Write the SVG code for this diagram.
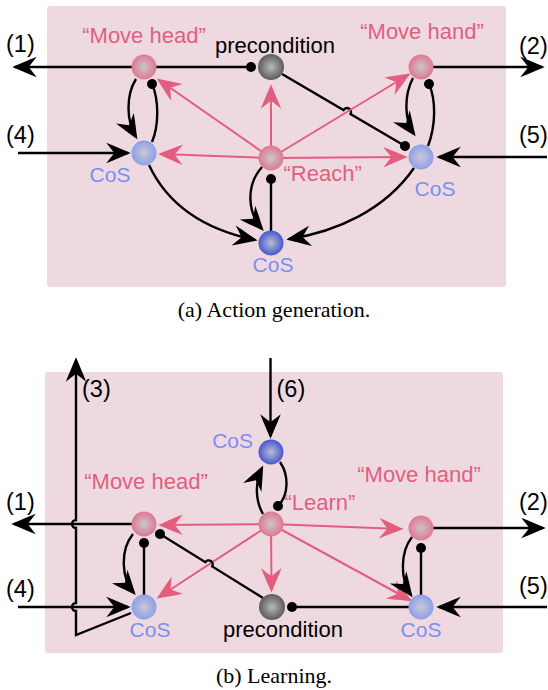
<svg xmlns="http://www.w3.org/2000/svg" width="548" height="690" viewBox="0 0 548 690">
<style>
.panel{fill:#efd9e1}
.k{fill:none;stroke:#000;stroke-width:2.4}
.p{fill:none;stroke:#e35d7e;stroke-width:2}
.ah{marker-end:url(#arrK)}
.ph{marker-end:url(#arrP)}
.de{marker-end:url(#dot)}
.ds{marker-start:url(#dot)}
text{font-family:"Liberation Sans",Arial,sans-serif;font-size:22px}
.n{font-size:23.5px}
.tp{fill:#e0607f}
.tb{fill:#7b8ff0;font-size:21px}
.tk{fill:#000}
.cap{font-family:"Liberation Serif","Times New Roman",serif;font-size:22px;fill:#000}
</style>
<defs>
<marker id="arrK" markerUnits="userSpaceOnUse" markerWidth="30" markerHeight="30" refX="0" refY="0" viewBox="-18 -10 22 20" orient="auto">
<path d="M2,0 C-3,-2 -9,-4.8 -16,-7.5 L-10,0 L-16,7.5 C-9,4.8 -3,2 2,0Z" fill="#000"/>
</marker>
<marker id="arrP" markerUnits="userSpaceOnUse" markerWidth="30" markerHeight="30" refX="0" refY="0" viewBox="-18 -10 22 20" orient="auto">
<path d="M2,0 C-3,-2 -9,-4.8 -16,-7.5 L-10,0 L-16,7.5 C-9,4.8 -3,2 2,0Z" fill="#e35d7e"/>
</marker>
<marker id="dot" markerUnits="userSpaceOnUse" markerWidth="12" markerHeight="12" refX="0" refY="0" viewBox="-6 -6 12 12" orient="auto">
<circle cx="0" cy="0" r="5" fill="#000"/>
</marker>
<radialGradient id="gP" cx="0.5" cy="0.5" r="0.5"><stop offset="0" stop-color="#cbc6cd"/><stop offset="1" stop-color="#de7890"/></radialGradient>
<radialGradient id="gB" cx="0.5" cy="0.5" r="0.5"><stop offset="0" stop-color="#c9c9d6"/><stop offset="1" stop-color="#8d9ee9"/></radialGradient>
<radialGradient id="gD" cx="0.5" cy="0.5" r="0.5"><stop offset="0" stop-color="#b9bcd6"/><stop offset="1" stop-color="#4858cc"/></radialGradient>
<radialGradient id="gG" cx="0.5" cy="0.5" r="0.5"><stop offset="0" stop-color="#b9b9b9"/><stop offset="1" stop-color="#5c5c5c"/></radialGradient>
</defs>

<rect class="panel" x="47" y="6" width="459" height="281" rx="3"/>
<rect class="panel" x="45" y="372" width="458" height="281" rx="3"/>

<g id="connectors">
<!-- top panel -->
<path class="k ds ah" d="M251,67 L15,67"/>
<path class="k ah" d="M421,67 L542,67"/>
<path class="k ah" d="M18,153 L128,153"/>
<path class="k ah" d="M547,157 L439,157"/>
<path class="k ah" d="M136,79 C126,95 126,120 136,137"/>
<path class="k de" d="M152,142 C159,125 159,100 152,84"/>
<path class="k ah" d="M413,78 C404,95 404,120 414,134"/>
<path class="k de" d="M428,146 C436,125 436,100 429,84"/>
<path class="k de" d="M282,74 L343.5,110.1 A4 4 0 0 1 350.5,114.1 L405,146"/>
<path class="p ph" d="M271,158 L159,80"/>
<path class="p ph" d="M271,158 L271,87"/>
<path class="p ph" d="M271,158 L408,75"/>
<path class="p ph" d="M271,158 L161,154"/>
<path class="p ph" d="M271,158 L405,157"/>
<path class="k ah" d="M262,167 C246,185 247,212 262,229"/>
<path class="k de" d="M271,231 L271,179"/>
<path class="k ah" d="M149,165 C170,210 212,231 255,240"/>
<path class="k ah" d="M414,168 C385,210 336,232 289,239"/>
<!-- bottom panel -->
<path class="k ah" d="M131,613 L76,635 L76,611 A4 4 0 0 1 76,603 L76,528 A4 4 0 0 1 76,520 L76,360"/>
<path class="k ah" d="M270.5,358 L270.5,436"/>
<path class="k ah" d="M144,524 L14,524"/>
<path class="k ah" d="M18,607 L128,607"/>
<path class="k ah" d="M421,528 L543,528"/>
<path class="k ah" d="M547,607 L439,607"/>
<path class="k ah" d="M263,514 C255,500 255,482 262,468"/>
<path class="k de" d="M280,462 C289,475 289,495 278,506"/>
<path class="p ph" d="M271,524 L161,525"/>
<path class="p ph" d="M271,524 L401,529"/>
<path class="p ph" d="M271,524 L159,597"/>
<path class="p ph" d="M271,524 L271.5,590"/>
<path class="p ph" d="M271,524 L410,600"/>
<path class="k ah" d="M133,534 C120,550 121,578 134,593"/>
<path class="k de" d="M144,595 L144,543"/>
<path class="k ds" d="M160,534 L205.4,562.2 A4 4 0 0 1 212.2,566.4 L263,598"/>
<path class="k ds" d="M292,607 L421,607"/>
<path class="k ah" d="M412,537 C400,552 400,580 411,595"/>
<path class="k de" d="M421,595 L421,548"/>
</g>

<g id="a-movehead"><circle cx="144" cy="67" r="12.5" fill="url(#gP)"/><text class="tp" x="144" y="43" text-anchor="middle">“Move head”</text></g>
<g id="a-precondition"><circle cx="271" cy="67" r="13" fill="url(#gG)"/><text class="tk" x="275" y="52.5" text-anchor="middle">precondition</text></g>
<g id="a-movehand"><circle cx="421" cy="67" r="12.5" fill="url(#gP)"/><text class="tp" x="422" y="38.5" text-anchor="middle">“Move hand”</text></g>
<g id="a-cos-left"><circle cx="144" cy="153" r="12.5" fill="url(#gB)"/><text class="tb" x="110" y="181.5" text-anchor="middle">CoS</text></g>
<g id="a-reach"><circle cx="271" cy="158" r="12.5" fill="url(#gP)"/><text class="tp" x="283.5" y="180.5">“Reach”</text></g>
<g id="a-cos-right"><circle cx="421" cy="157" r="12.5" fill="url(#gB)"/><text class="tb" x="435" y="196" text-anchor="middle">CoS</text></g>
<g id="a-cos-bottom"><circle cx="271" cy="243" r="12.5" fill="url(#gD)"/><text class="tb" x="273" y="272" text-anchor="middle">CoS</text></g>
<g id="a-labels">
<text class="tk n" x="6" y="52">(1)</text>
<text class="tk n" x="519" y="53.5">(2)</text>
<text class="tk n" x="6" y="143">(4)</text>
<text class="tk n" x="519" y="142.5">(5)</text>
<text class="cap" x="274" y="317" text-anchor="middle">(a) Action generation.</text>
</g>

<g id="b-cos-top"><circle cx="271" cy="452" r="12.5" fill="url(#gD)"/><text class="tb" x="253" y="447.5" text-anchor="end">CoS</text></g>
<g id="b-movehead"><circle cx="144" cy="524" r="12.5" fill="url(#gP)"/><text class="tp" x="146" y="489" text-anchor="middle">“Move head”</text></g>
<g id="b-learn"><circle cx="271" cy="524" r="12.5" fill="url(#gP)"/><text class="tp" x="284.5" y="509.5">“Learn”</text></g>
<g id="b-movehand"><circle cx="421" cy="528" r="12.5" fill="url(#gP)"/><text class="tp" x="419" y="481.5" text-anchor="middle">“Move hand”</text></g>
<g id="b-cos-left"><circle cx="144" cy="607" r="12.5" fill="url(#gB)"/><text class="tb" x="150" y="637" text-anchor="middle">CoS</text></g>
<g id="b-precondition"><circle cx="272" cy="607" r="13" fill="url(#gG)"/><text class="tk" x="283" y="636.5" text-anchor="middle">precondition</text></g>
<g id="b-cos-right"><circle cx="421" cy="607" r="12.5" fill="url(#gB)"/><text class="tb" x="421" y="637" text-anchor="middle">CoS</text></g>
<g id="b-labels">
<text class="tk n" x="82" y="397">(3)</text>
<text class="tk n" x="276.5" y="397">(6)</text>
<text class="tk n" x="6" y="509.5">(1)</text>
<text class="tk n" x="519" y="509.5">(2)</text>
<text class="tk n" x="6" y="597">(4)</text>
<text class="tk n" x="519" y="594">(5)</text>
<text class="cap" x="274" y="683" text-anchor="middle">(b) Learning.</text>
</g>
</svg>
